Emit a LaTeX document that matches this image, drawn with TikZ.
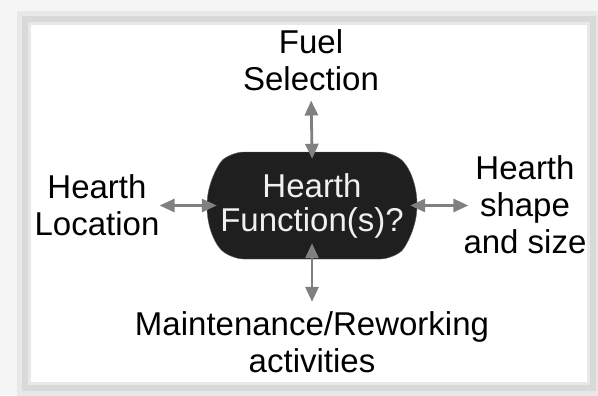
\documentclass[tikz,border=0pt]{standalone}
\usepackage{fontspec}
\setmainfont{Liberation Sans}
\usetikzlibrary{arrows.meta}
\usetikzlibrary{shapes.misc}

\tikzset{
  lbl/.style={align=center, inner sep=0pt, font=\fontsize{33bp}{37bp}\selectfont},
  core/.style={rounded rectangle, rounded rectangle arc length=100, rounded corners=12bp,
    fill=black!88, draw=black!60, text=white!94!black, align=center, inner sep=0pt,
    minimum width=210bp, minimum height=107bp, font=\fontsize{33bp}{34bp}\selectfont},
  link/.style={draw=black!50, line width=2.8bp, {Triangle[length=15bp,width=13bp]}-{Triangle[length=15bp,width=13bp]}}
}

\begin{document}
\begin{tikzpicture}[x=1bp,y=-1bp]
    \useasboundingbox (0,0) rectangle (598,395);
    \fill [black!4] (0,0) rectangle (598,395);
    \draw [black!9,line width=16bp] (25,19) rectangle (593,388);
    \draw [black!15,line width=6bp] (25,19) rectangle (593,388);
    \fill [white] (31,25) rectangle (587,382);
    \node [core] (func) at (312,205.5) {Hearth\\Function(s)?};
    \node [lbl,anchor=base] (fuel) at (311,90) {Fuel\\Selection};
    \node [lbl,anchor=base] (loc) at (97,235) {Hearth\\Location};
    \node [lbl,anchor=base] (shape) at (525,253) {Hearth\\shape\\and size};
    \node [lbl,anchor=base] (maint) at (312,372) {Maintenance/Reworking\\activities};
    \draw [link,shorten <=10bp,shorten >=-7bp] (fuel.south) -- (func.north);
    \draw [link,shorten >=-10bp] (loc.east |- func.west) -- (func.west);
    \draw [link,shorten <=-7bp,shorten >=-5bp] (func.east) -- (shape.west |- func.east);
    \draw [link,shorten <=-16bp,shorten >=9bp] (func.south) -- (maint.north);
\end{tikzpicture}
\end{document}
